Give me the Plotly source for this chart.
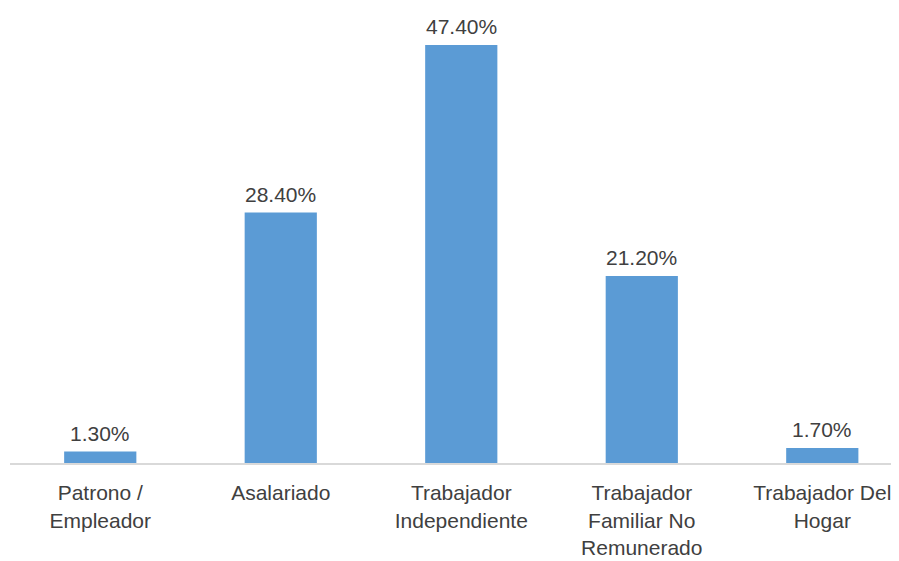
import plotly.graph_objects as go

categories = ["Patrono /<br>Empleador", "Asalariado", "Trabajador<br>Independiente",
              "Trabajador<br>Familiar No<br>Remunerado", "Trabajador Del<br>Hogar"]
values = [1.3, 28.4, 47.4, 21.2, 1.7]
labels = ["1.30%", "28.40%", "47.40%", "21.20%", "1.70%"]

FONT = "Liberation Sans"
TXT = "#404040"

fig = go.Figure(go.Bar(
    x=categories, y=values, width=0.4,
    marker=dict(color="#5B9BD5", line=dict(width=0)),
    hoverinfo="skip",
))

for c, v, t in zip(categories, values, labels):
    fig.add_annotation(x=c, y=v, text=t, showarrow=False, yanchor="bottom",
                       yshift=5, font=dict(family=FONT, size=21, color=TXT))

fig.update_layout(
    width=891, height=553,
    margin=dict(l=2, r=0, t=14, b=98),
    paper_bgcolor="white", plot_bgcolor="white",
    showlegend=False,
    bargap=0.6,
    xaxis=dict(range=[-0.5, 4.425], showline=True, linecolor="#D9D9D9", linewidth=2,
               ticks="outside", ticklen=10, tickcolor="rgba(0,0,0,0)",
               tickfont=dict(family=FONT, size=21, color=TXT), showgrid=False, zeroline=False),
    yaxis=dict(range=[0, 50], visible=False, showgrid=False, zeroline=False),
)

fig.write_html("out.html")
